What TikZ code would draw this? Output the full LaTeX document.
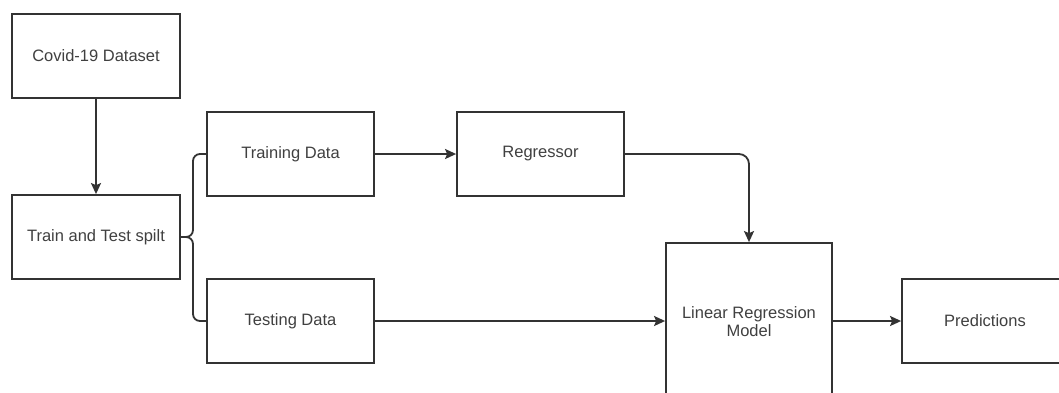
\documentclass[tikz,border=0pt]{standalone}
\usepackage{fontspec}
\setmainfont{Liberation Sans}
\usetikzlibrary{arrows.meta}
\definecolor{linecol}{HTML}{333333}
\definecolor{txtcol}{HTML}{404040}
\begin{document}
\begin{tikzpicture}[x=1pt,y=-1pt,
  box/.style={draw=linecol, line width=1.8pt, fill=white, inner sep=0pt, align=center,
    font=\fontsize{16.5}{20}\selectfont, text=txtcol},
  conn/.style={draw=linecol, line width=1.8pt},
  arr/.style={conn, -{Stealth[length=11pt,width=10pt,inset=2pt]}}]
\useasboundingbox (0,0) rectangle (1059,392);
\clip (0,0) rectangle (1059,392);
\fill[white] (0,0) rectangle (1059,392);
\node[box, minimum width=168pt, minimum height=84pt] (cov) at (96,56) {Covid-19 Dataset};
\node[box, minimum width=168pt, minimum height=84pt] (split) at (96,237) {Train and Test spilt};
\node[box, minimum width=167pt, minimum height=84pt] (train) at (290.5,154) {Training Data};
\node[box, minimum width=167pt, minimum height=84pt] (test) at (290.5,321) {Testing Data};
\node[box, minimum width=167pt, minimum height=84pt] (reg) at (540.5,154) {Regressor};
\node[box, minimum width=166pt, minimum height=158pt] (lrm) at (749,322) {Linear Regression\\[-2pt]Model};
\node[box, minimum width=166pt, minimum height=84pt] (pred) at (985,321) {Predictions};
\coordinate (brc) at (193,237);
\draw[arr] (cov.south) -- (split.north);
\draw[conn, rounded corners=7pt] (split.east) -- (brc) |- (train.west);
\draw[conn, rounded corners=7pt] (split.east) -- (brc) |- (test.west);
\draw[arr] (train.east) -- (reg.west);
\draw[arr, rounded corners=10pt] (reg.east) -| (lrm.north);
\draw[arr] (test.east) -- (test.east -| lrm.west);
\draw[arr] (pred.west -| lrm.east) -- (pred.west);
\end{tikzpicture}
\end{document}
